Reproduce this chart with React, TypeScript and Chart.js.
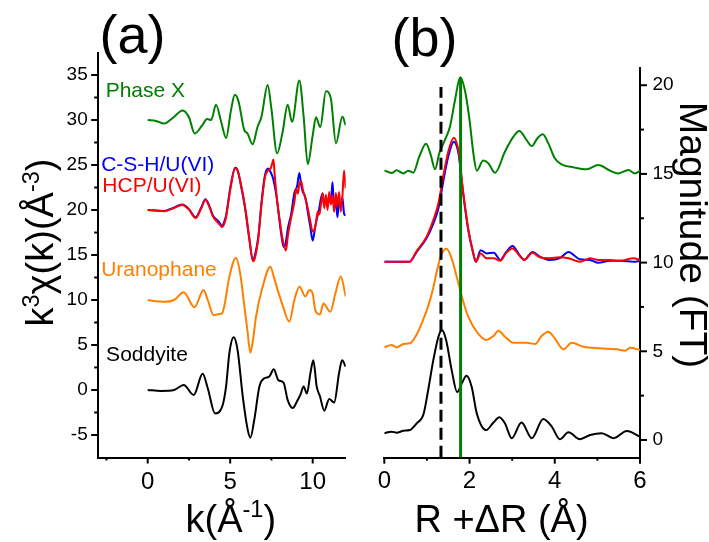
import React, { useEffect, useRef } from 'react';
import { Chart, registerables } from 'chart.js';

Chart.register(...registerables);

const FONT = '"Liberation Sans", Arial, Helvetica, sans-serif';
const GREEN = '#008000';
const BLUE = '#0000ff';
const RED = '#ff0000';
const ORANGE = '#ff8000';
const BLACK = '#000000';
const W = 709;
const H = 542;

// ---------- Panel (a): k^3 chi(k) ----------
const kPhaseX = [0, 0.5, 1.0, 1.5, 2.12, 2.5, 2.85, 3.3, 3.6, 3.85, 4.14, 4.45, 4.75, 5.05, 5.28, 5.5, 5.85, 6.05, 6.36, 6.65, 6.9, 7.27, 7.5, 7.84, 8.18, 8.48, 8.75, 9.19, 9.45, 9.7, 10.0, 10.2, 10.46, 10.8, 11.1, 11.41, 11.8, 12.0];
const chiPhaseX = [30.0, 29.9, 29.6, 30.2, 31.05, 30.3, 28.5, 29.4, 30.1, 30.0, 31.7, 29.8, 28.0, 31.1, 32.8, 32.1, 28.9, 28.5, 27.3, 29.2, 30.4, 33.9, 31.2, 26.3, 28.7, 31.7, 29.8, 34.4, 30.4, 25.1, 28.3, 30.3, 29.2, 33.2, 32.4, 27.4, 30.4, 29.4];

const kCSH = [0, 0.5, 1.0, 1.5, 2.1, 2.5, 2.9, 3.25, 3.5, 3.75, 3.95, 4.2, 4.35, 4.5, 4.6, 4.75, 5.0, 5.3, 5.45, 5.6, 5.9, 6.15, 6.38, 6.5, 6.7, 6.9, 7.1, 7.3, 7.45, 7.6, 7.8, 8.0, 8.1, 8.24, 8.35, 8.5, 8.7, 8.9, 9.05, 9.19, 9.3, 9.4, 9.5, 9.6, 9.7, 9.85, 10.0, 10.1, 10.2, 10.3, 10.4, 10.5, 10.6, 10.7, 10.8, 10.9, 11.0, 11.1, 11.2, 11.3, 11.4, 11.5, 11.6, 11.7, 11.8, 11.9, 12.0];
const chiCSH = [20.0, 19.95, 19.9, 20.2, 20.6, 20.1, 19.2, 20.3, 21.2, 20.4, 19.4, 18.9, 18.6, 18.2, 18.5, 19.4, 22.4, 24.7, 24.4, 23.2, 20.2, 16.9, 14.4, 15.0, 17.0, 20.9, 23.8, 24.6, 24.2, 23.5, 21.6, 18.6, 17.2, 15.9, 16.2, 18.0, 19.6, 22.0, 22.6, 24.1, 22.8, 22.0, 21.7, 21.0, 19.8, 18.2, 16.6, 17.5, 18.6, 19.4, 20.2, 21.3, 21.8, 20.6, 21.2, 20.4, 21.6, 20.8, 23.1, 20.2, 20.8, 19.2, 21.0, 20.3, 21.4, 19.6, 19.4];

const kHCP = [0, 0.5, 1.0, 1.5, 2.1, 2.5, 2.9, 3.25, 3.5, 3.75, 3.95, 4.2, 4.35, 4.5, 4.6, 4.75, 5.0, 5.3, 5.45, 5.6, 5.9, 6.15, 6.38, 6.5, 6.7, 6.9, 7.1, 7.3, 7.45, 7.55, 7.62, 7.68, 7.8, 8.0, 8.15, 8.38, 8.5, 8.7, 8.9, 9.0, 9.1, 9.2, 9.3, 9.4, 9.5, 9.6, 9.7, 9.85, 10.0, 10.1, 10.2, 10.3, 10.4, 10.5, 10.6, 10.7, 10.8, 10.9, 11.0, 11.1, 11.2, 11.3, 11.4, 11.5, 11.6, 11.7, 11.8, 11.9, 12.0];
const chiHCP = [20.0, 19.95, 19.85, 20.15, 20.55, 20.05, 19.1, 20.2, 21.1, 20.3, 19.3, 18.7, 18.4, 18.1, 18.3, 19.2, 22.2, 24.6, 24.4, 23.3, 20.4, 17.0, 14.3, 14.7, 16.8, 20.6, 23.6, 24.4, 24.6, 25.2, 25.6, 24.3, 21.8, 18.9, 17.0, 15.5, 17.2, 19.2, 21.0, 22.4, 21.8, 23.0, 23.2, 22.3, 21.6, 21.0, 20.2, 18.8, 17.6, 17.8, 18.6, 19.8, 19.5, 20.6, 21.9, 20.2, 21.7, 20.0, 22.0, 20.6, 21.6, 19.8, 21.9, 20.4, 22.0, 19.8, 21.5, 24.4, 22.4];

const kUranophane = [0, 0.5, 1.0, 1.6, 2.18, 2.83, 3.39, 3.64, 4.0, 4.34, 4.5, 4.64, 4.95, 5.35, 5.6, 5.86, 6.05, 6.22, 6.4, 6.56, 6.97, 7.43, 7.67, 7.88, 8.18, 8.58, 8.89, 9.2, 9.55, 9.8, 10.0, 10.15, 10.44, 10.65, 11.07, 11.37, 11.7, 12.0];
const chiUranophane = [10.0, 9.85, 9.8, 10.0, 10.85, 9.2, 11.1, 10.0, 8.3, 8.45, 8.5, 9.3, 12.6, 14.7, 13.0, 9.3, 6.5, 4.15, 5.8, 8.1, 11.5, 13.7, 12.4, 11.1, 9.4, 7.6, 10.0, 11.5, 10.4, 11.1, 10.7, 8.9, 8.4, 9.6, 8.7, 10.7, 12.6, 10.4];

const kSoddyite = [0, 0.8, 1.6, 2.18, 2.79, 3.33, 3.64, 4.08, 4.54, 4.75, 4.95, 5.21, 5.45, 5.76, 6.06, 6.22, 6.46, 6.77, 7.07, 7.37, 7.64, 7.92, 8.24, 8.48, 8.79, 9.09, 9.25, 9.45, 9.65, 9.86, 10.04, 10.24, 10.44, 10.7, 11.0, 11.3, 11.6, 11.78, 12.0];
const chiSoddyite = [0, -0.1, 0, 0.55, -0.55, 1.8, 0.2, -2.6, -1.7, 0.4, 4.1, 5.85, 4.4, -0.7, -4.4, -5.3, -3.3, 0.4, 1.3, 1.5, 2.3, 1.1, 0.8, -1.1, -2.0, -1.1, -0.55, 0.4, -0.4, 1.85, 3.3, 0.4, -0.7, -2.3, -1.0, -1.4, 1.9, 3.3, 2.6];

// ---------- Panel (b): |FT| ----------
const rPhaseX = [0, 0.17, 0.29, 0.45, 0.56, 0.68, 0.82, 0.98, 1.09, 1.19, 1.29, 1.42, 1.54, 1.66, 1.78, 1.89, 2.0, 2.09, 2.17, 2.32, 2.44, 2.6, 2.83, 3.03, 3.17, 3.34, 3.46, 3.59, 3.72, 3.85, 4.0, 4.16, 4.44, 4.75, 5.02, 5.3, 5.49, 5.73, 5.88, 6.0];
const ftPhaseX = [15.2, 15.05, 15.2, 15.03, 15.18, 15.07, 15.97, 16.7, 16.07, 15.26, 16.16, 16.9, 17.66, 19.17, 20.45, 19.73, 18.04, 16.16, 15.18, 15.75, 15.6, 15.07, 16.25, 17.1, 17.42, 16.9, 16.57, 17.0, 17.23, 16.72, 15.88, 15.54, 15.37, 15.26, 15.5, 15.18, 15.03, 15.22, 15.03, 15.18];

const rCSH = [0, 0.3, 0.59, 0.76, 0.99, 1.15, 1.27, 1.39, 1.5, 1.63, 1.74, 1.85, 1.97, 2.08, 2.15, 2.26, 2.4, 2.57, 2.72, 2.86, 3.01, 3.17, 3.28, 3.48, 3.65, 3.87, 4.12, 4.32, 4.59, 4.83, 5.02, 5.3, 5.53, 5.85, 6.0];
const ftCSH = [10.05, 10.05, 10.05, 10.6, 11.37, 12.2, 13.06, 14.66, 15.97, 16.82, 16.16, 13.9, 11.84, 10.6, 10.05, 10.7, 10.52, 10.56, 10.15, 10.6, 10.94, 10.43, 10.15, 10.6, 10.33, 10.15, 10.25, 10.6, 10.19, 10.15, 9.99, 10.1, 10.1, 10.05, 10.1];

const rHCP = [0, 0.3, 0.59, 0.76, 0.99, 1.15, 1.27, 1.39, 1.5, 1.63, 1.74, 1.85, 1.97, 2.08, 2.15, 2.26, 2.4, 2.57, 2.72, 2.86, 3.01, 3.17, 3.28, 3.48, 3.65, 3.87, 4.12, 4.32, 4.59, 4.83, 5.02, 5.3, 5.53, 5.85, 6.0];
const ftHCP = [10.05, 10.05, 10.05, 10.65, 11.45, 12.4, 13.35, 14.95, 16.25, 17.04, 16.3, 14.0, 11.9, 10.6, 10.05, 10.52, 10.24, 10.24, 10.1, 10.55, 10.8, 10.4, 10.15, 10.55, 10.3, 10.25, 10.3, 10.24, 10.05, 10.24, 10.15, 10.15, 10.1, 10.24, 10.15];

const rUranophane = [0, 0.17, 0.29, 0.45, 0.6, 0.76, 0.9, 1.05, 1.15, 1.25, 1.35, 1.46, 1.58, 1.7, 1.82, 1.97, 2.17, 2.4, 2.56, 2.68, 2.83, 3.03, 3.34, 3.54, 3.69, 3.85, 4.0, 4.2, 4.4, 4.67, 5.06, 5.46, 5.65, 5.77, 6.0];
const ftUranophane = [5.22, 5.36, 5.22, 5.41, 5.45, 5.95, 6.7, 7.7, 8.6, 9.7, 10.5, 10.78, 10.24, 9.2, 8.08, 6.95, 6.1, 5.64, 5.86, 6.16, 5.82, 5.48, 5.48, 5.41, 5.86, 6.1, 5.73, 5.11, 5.48, 5.26, 5.17, 5.11, 5.03, 5.2, 5.07];

const rSoddyite = [0, 0.17, 0.29, 0.45, 0.6, 0.76, 0.92, 1.03, 1.15, 1.27, 1.35, 1.45, 1.58, 1.71, 1.82, 1.93, 2.05, 2.17, 2.39, 2.56, 2.7, 2.83, 2.99, 3.22, 3.46, 3.73, 3.93, 4.12, 4.32, 4.59, 4.83, 5.1, 5.38, 5.69, 6.0];
const ftSoddyite = [0.38, 0.47, 0.41, 0.52, 0.56, 0.94, 1.45, 2.82, 4.5, 5.82, 6.2, 5.64, 3.95, 2.7, 3.2, 3.62, 3.0, 1.5, 0.56, 0.98, 1.28, 0.94, 0.1, 0.98, 0.1, 1.18, 0.75, 0.04, 0.43, 0.04, 0.28, 0.38, 0.1, 0.51, 0.19];

// reference lines in panel (b)
const dashedR = [1.33, 1.33];
const dashedM = [-1, 19.9];
const greenLineR = [1.79, 1.79];
const greenLineM = [-1, 20.45];

// ticks
const aXMajor = [0, 5, 10];
const aXMinor = [-2.5, 2.5, 7.5];
const aYMajor = [-5, 0, 5, 10, 15, 20, 25, 30, 35];
const aYMinor = [-2.5, 2.5, 7.5, 12.5, 17.5, 22.5, 27.5, 32.5];
const bXMajor = [0, 2, 4, 6];
const bXMinor = [1, 3, 5];
const bYMajor = [0, 5, 10, 15, 20];
const bYMinor = [2.5, 7.5, 12.5, 17.5];

// series labels in panel (a), anchored in data coordinates
const aLabels = [
  { text: 'Phase X', color: GREEN, x: -2.55, y: 32.6 },
  { text: 'C-S-H/U(VI)', color: BLUE, x: -2.82, y: 24.3 },
  { text: 'HCP/U(VI)', color: RED, x: -2.75, y: 22.0 },
  { text: 'Uranophane', color: ORANGE, x: -2.82, y: 12.7 },
  { text: 'Soddyite', color: BLACK, x: -2.52, y: 3.2 },
];

type Part = { t: string; sup?: boolean };

const pts = (xs: number[], ys: number[]) => xs.map((x, i) => ({ x, y: ys[i] }));

function drawRich(ctx: CanvasRenderingContext2D, parts: Part[], x: number, y: number, size: number, rot: number) {
  ctx.save();
  ctx.translate(x, y);
  ctx.rotate(rot);
  ctx.fillStyle = '#000';
  ctx.textBaseline = 'alphabetic';
  ctx.textAlign = 'left';
  const supSize = size * 0.62;
  const widths = parts.map((p) => {
    ctx.font = `${p.sup ? supSize : size}px ${FONT}`;
    return ctx.measureText(p.t).width;
  });
  const total = widths.reduce((a, b) => a + b, 0);
  let cx = -total / 2;
  parts.forEach((p, i) => {
    ctx.font = `${p.sup ? supSize : size}px ${FONT}`;
    ctx.fillText(p.t, cx, p.sup ? -size * 0.37 : 0);
    cx += widths[i];
  });
  ctx.restore();
}

type Decor = {
  xMajor: number[]; xMinor: number[]; yMajor: number[]; yMinor: number[];
  ySide: 'left' | 'right';
  draw: (chart: any, ctx: CanvasRenderingContext2D) => void;
};

function decorPlugin(d: Decor) {
  return {
    id: 'decor',
    afterDraw(chart: any) {
      const ctx: CanvasRenderingContext2D = chart.ctx;
      const xs = chart.scales.x;
      const ys = chart.scales.y;
      const area = chart.chartArea;
      ctx.save();
      ctx.strokeStyle = '#000';
      ctx.lineWidth = 2;
      const tick = (x1: number, y1: number, x2: number, y2: number) => {
        ctx.beginPath();
        ctx.moveTo(x1, y1);
        ctx.lineTo(x2, y2);
        ctx.stroke();
      };
      d.xMajor.forEach((v) => { const p = xs.getPixelForValue(v); tick(p, area.bottom, p, area.bottom + 6); });
      d.xMinor.forEach((v) => { const p = xs.getPixelForValue(v); tick(p, area.bottom, p, area.bottom + 3); });
      const sgn = d.ySide === 'left' ? -1 : 1;
      const edge = d.ySide === 'left' ? area.left : area.right;
      d.yMajor.forEach((v) => { const p = ys.getPixelForValue(v); tick(edge, p, edge + sgn * 7, p); });
      d.yMinor.forEach((v) => { const p = ys.getPixelForValue(v); tick(edge, p, edge + sgn * 4, p); });
      ctx.restore();
      d.draw(chart, ctx);
    },
  };
}

function lineDs(data: { x: number; y: number }[], color: string, extra: any = {}) {
  return {
    data,
    borderColor: color,
    backgroundColor: color,
    borderWidth: 2,
    pointRadius: 0,
    fill: false,
    cubicInterpolationMode: 'monotone',
    ...extra,
  };
}

function baseScales(o: {
  xMin: number; xMax: number; yMin: number; yMax: number;
  xTicks: number[]; yTicks: number[]; ySide: 'left' | 'right';
  yWidth: number; xHeight: number; xFont: number; yFont: number; xPad: number; yPad: number;
}) {
  return {
    x: {
      type: 'linear',
      position: 'bottom',
      min: o.xMin,
      max: o.xMax,
      afterBuildTicks: (s: any) => { s.ticks = o.xTicks.map((v) => ({ value: v })); },
      afterFit: (s: any) => { s.height = o.xHeight; },
      grid: { display: false, drawTicks: false },
      border: { display: true, color: '#000', width: 2 },
      ticks: { color: '#000', font: { family: FONT, size: o.xFont }, padding: o.xPad, maxRotation: 0, autoSkip: false },
    },
    y: {
      type: 'linear',
      position: o.ySide,
      min: o.yMin,
      max: o.yMax,
      afterBuildTicks: (s: any) => { s.ticks = o.yTicks.map((v) => ({ value: v })); },
      afterFit: (s: any) => { s.width = o.yWidth; },
      grid: { display: false, drawTicks: false },
      border: { display: true, color: '#000', width: 2 },
      ticks: { color: '#000', font: { family: FONT, size: o.yFont }, padding: o.yPad, autoSkip: false },
    },
  };
}

function configA(): any {
  return {
    type: 'line',
    data: {
      datasets: [
        lineDs(pts(kHCP, chiHCP), RED, { label: 'HCP/U(VI)' }),
        lineDs(pts(kCSH, chiCSH), BLUE, { label: 'C-S-H/U(VI)' }),
        lineDs(pts(kPhaseX, chiPhaseX), GREEN, { label: 'Phase X' }),
        lineDs(pts(kUranophane, chiUranophane), ORANGE, { label: 'Uranophane' }),
        lineDs(pts(kSoddyite, chiSoddyite), BLACK, { label: 'Soddyite' }),
      ],
    },
    options: {
      animation: false,
      responsive: false,
      maintainAspectRatio: false,
      events: [],
      layout: { padding: { left: 0, top: 52.5, right: W - 345.7, bottom: 0 } },
      plugins: { legend: { display: false }, tooltip: { enabled: false } },
      scales: baseScales({
        xMin: -3, xMax: 12, yMin: -7.5, yMax: 37.5,
        xTicks: aXMajor, yTicks: aYMajor, ySide: 'left',
        yWidth: 98.2, xHeight: H - 457.5, xFont: 24, yFont: 19, xPad: 10, yPad: 10.5,
      }),
    },
    plugins: [
      decorPlugin({
        xMajor: aXMajor, xMinor: aXMinor, yMajor: aYMajor, yMinor: aYMinor, ySide: 'left',
        draw: (chart, ctx) => {
          const xs = chart.scales.x;
          const ys = chart.scales.y;
          ctx.save();
          ctx.textAlign = 'left';
          ctx.textBaseline = 'alphabetic';
          ctx.font = `21px ${FONT}`;
          aLabels.forEach((l) => {
            ctx.fillStyle = l.color;
            ctx.fillText(l.text, xs.getPixelForValue(l.x), ys.getPixelForValue(l.y));
          });
          ctx.fillStyle = '#000';
          ctx.font = `54px ${FONT}`;
          ctx.fillText('(a)', 99.5, 52.5);
          ctx.restore();
          drawRich(ctx, [{ t: 'k(Å' }, { t: '-1', sup: true }, { t: ')' }], 230.8, 531.5, 38, 0);
          drawRich(ctx, [{ t: 'k' }, { t: '3', sup: true }, { t: 'χ(k)(Å' }, { t: '-3', sup: true }, { t: ')' }], 53, 242.5, 38, -Math.PI / 2);
        },
      }),
    ],
  };
}

function configB(): any {
  return {
    type: 'line',
    data: {
      datasets: [
        lineDs(pts(dashedR, dashedM), BLACK, { label: 'ref 1', borderWidth: 3, borderDash: [12, 6], cubicInterpolationMode: 'default', tension: 0 }),
        lineDs(pts(greenLineR, greenLineM), GREEN, { label: 'ref 2', borderWidth: 3, cubicInterpolationMode: 'default', tension: 0 }),
        lineDs(pts(rHCP, ftHCP), RED, { label: 'HCP/U(VI)' }),
        lineDs(pts(rCSH, ftCSH), BLUE, { label: 'C-S-H/U(VI)' }),
        lineDs(pts(rPhaseX, ftPhaseX), GREEN, { label: 'Phase X' }),
        lineDs(pts(rUranophane, ftUranophane), ORANGE, { label: 'Uranophane' }),
        lineDs(pts(rSoddyite, ftSoddyite), BLACK, { label: 'Soddyite' }),
      ],
    },
    options: {
      animation: false,
      responsive: false,
      maintainAspectRatio: false,
      events: [],
      layout: { padding: { left: 384.3, top: 67.5, right: 0, bottom: 0 } },
      plugins: { legend: { display: false }, tooltip: { enabled: false } },
      scales: baseScales({
        xMin: 0, xMax: 6, yMin: -1, yMax: 21,
        xTicks: bXMajor, yTicks: bYMajor, ySide: 'right',
        yWidth: W - 640, xHeight: H - 457.7, xFont: 24, yFont: 19, xPad: 9.6, yPad: 12.5,
      }),
    },
    plugins: [
      decorPlugin({
        xMajor: bXMajor, xMinor: bXMinor, yMajor: bYMajor, yMinor: bYMinor, ySide: 'right',
        draw: (_chart, ctx) => {
          ctx.save();
          ctx.fillStyle = '#000';
          ctx.textAlign = 'left';
          ctx.textBaseline = 'alphabetic';
          ctx.font = `54px ${FONT}`;
          ctx.fillText('(b)', 391.5, 55.5);
          ctx.restore();
          drawRich(ctx, [{ t: 'R +ΔR (Å)' }], 501.5, 531.5, 38, 0);
          drawRich(ctx, [{ t: 'Magnitude (FT)' }], 680, 235, 39, Math.PI / 2);
        },
      }),
    ],
  };
}

export default function App() {
  const refA = useRef<HTMLCanvasElement>(null);
  const refB = useRef<HTMLCanvasElement>(null);
  useEffect(() => {
    const a = new Chart(refA.current as HTMLCanvasElement, configA());
    const b = new Chart(refB.current as HTMLCanvasElement, configB());
    return () => {
      a.destroy();
      b.destroy();
    };
  }, []);
  return (
    <div style={{ position: 'absolute', left: 0, top: 0, width: W, height: H, background: '#fff' }}>
      <canvas ref={refA} width={W} height={H} style={{ position: 'absolute', left: 0, top: 0 }} />
      <canvas ref={refB} width={W} height={H} style={{ position: 'absolute', left: 0, top: 0 }} />
    </div>
  );
}
